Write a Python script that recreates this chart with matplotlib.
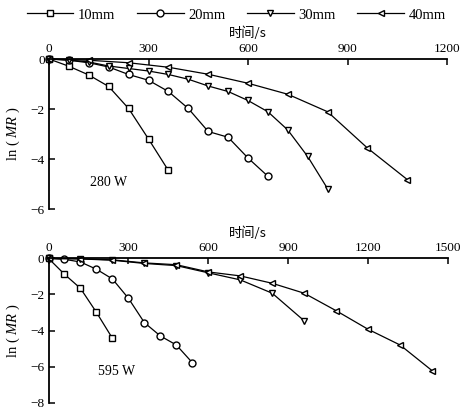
import matplotlib
matplotlib.use("Agg")
import matplotlib.pyplot as plt

plt.rcParams['font.family'] = ['Liberation Serif', 'Noto Sans CJK SC']
plt.rcParams['mathtext.fontset'] = 'custom'
plt.rcParams['mathtext.rm'] = 'Liberation Serif'
plt.rcParams['mathtext.it'] = 'Liberation Serif:italic'
plt.rcParams['axes.unicode_minus'] = True

series_labels = ['10mm', '20mm', '30mm', '40mm']
markers = ['s', 'o', 'v', '<']

# 280 W panel
t280_10 = [0, 60, 120, 180, 240, 300, 360]
y280_10 = [0, -0.29, -0.64, -1.10, -1.98, -3.20, -4.46]
t280_20 = [0, 60, 120, 180, 240, 300, 360, 420, 480, 540, 600, 660]
y280_20 = [0, -0.05, -0.15, -0.32, -0.62, -0.85, -1.30, -1.98, -2.90, -3.13, -3.96, -4.69]
t280_30 = [0, 60, 120, 180, 240, 300, 360, 420, 480, 540, 600, 660, 720, 780, 840]
y280_30 = [0, -0.04, -0.12, -0.28, -0.38, -0.48, -0.62, -0.81, -1.08, -1.30, -1.66, -2.11, -2.84, -3.90, -5.19]
t280_40 = [0, 120, 240, 360, 480, 600, 720, 840, 960, 1080]
y280_40 = [0, -0.05, -0.15, -0.33, -0.61, -0.97, -1.41, -2.11, -3.56, -4.82]

# 595 W panel
t595_10 = [0, 60, 120, 180, 240]
y595_10 = [0, -0.88, -1.66, -2.99, -4.43]
t595_20 = [0, 60, 120, 180, 240, 300, 360, 420, 480, 540]
y595_20 = [0, -0.05, -0.20, -0.60, -1.14, -2.21, -3.56, -4.30, -4.80, -5.78]
t595_30 = [0, 120, 240, 360, 480, 600, 720, 840, 960]
y595_30 = [0, -0.03, -0.10, -0.28, -0.40, -0.80, -1.19, -1.93, -3.46]
t595_40 = [0, 120, 240, 360, 480, 600, 720, 840, 960, 1080, 1200, 1320, 1440]
y595_40 = [0, -0.02, -0.08, -0.25, -0.35, -0.75, -0.97, -1.38, -1.93, -2.90, -3.93, -4.80, -6.22]

top_xticks = [0, 300, 600, 900, 1200]
top_yticks = [0, -2, -4, -6]
bot_xticks = [0, 300, 600, 900, 1200, 1500]
bot_yticks = [0, -2, -4, -6, -8]

fig = plt.figure(figsize=(4.63, 4.11), dpi=100)
W, H = 463, 411
ax1 = fig.add_axes([49 / W, 1 - 209 / H, (447 - 49) / W, (209 - 59) / H])
ax2 = fig.add_axes([48.5 / W, 1 - 402.7 / H, (448 - 48.5) / W, (402.7 - 258.4) / H])

def style(ax, xticks, yticks, xlim, ylim):
    ax.set_xlim(*xlim)
    ax.set_ylim(*ylim)
    ax.set_xticks(xticks)
    ax.set_yticks(yticks)
    ax.xaxis.set_ticks_position('top')
    ax.xaxis.set_label_position('top')
    for s in ['right', 'bottom']:
        ax.spines[s].set_visible(False)
    for s in ['top', 'left']:
        ax.spines[s].set_linewidth(1.3)
    ax.tick_params(direction='in', length=4, width=1.1, labelsize=9.5, pad=3)
    ax.set_xlabel('时间/s', family=['Noto Sans CJK SC'], fontsize=9.5, labelpad=4)
    ax.set_ylabel(r'ln ( $\mathit{MR}$ )', fontsize=10.5, labelpad=6)
    ax.patch.set_alpha(0)

def plot_series(ax, data):
    handles = []
    for (t, y), m, lab in zip(data, markers, series_labels):
        h, = ax.plot(t, y, color='black', lw=0.9, marker=m, markersize=5,
                     markerfacecolor='white', markeredgecolor='black',
                     markeredgewidth=1.0, label=lab, clip_on=False)
        handles.append(h)
    return handles

handles = plot_series(ax1, [(t280_10, y280_10), (t280_20, y280_20),
                            (t280_30, y280_30), (t280_40, y280_40)])
plot_series(ax2, [(t595_10, y595_10), (t595_20, y595_20),
                  (t595_30, y595_30), (t595_40, y595_40)])

style(ax1, top_xticks, top_yticks, (0, 1200), (-6, 0))
style(ax2, bot_xticks, bot_yticks, (0, 1500), (-8, 0))

ax1.text(180, -4.95, '280 W', ha='center', va='center', fontsize=10)
ax2.text(257, -6.29, '595 W', ha='center', va='center', fontsize=10)

fig.legend(handles=handles, labels=series_labels, loc='center',
           bbox_to_anchor=(0.51, 1 - 15 / H), ncol=4, frameon=False,
           fontsize=10.5, handlelength=3.2, columnspacing=1.5, handletextpad=0.3,
           borderaxespad=0)

fig.savefig('out.png', dpi=100)
